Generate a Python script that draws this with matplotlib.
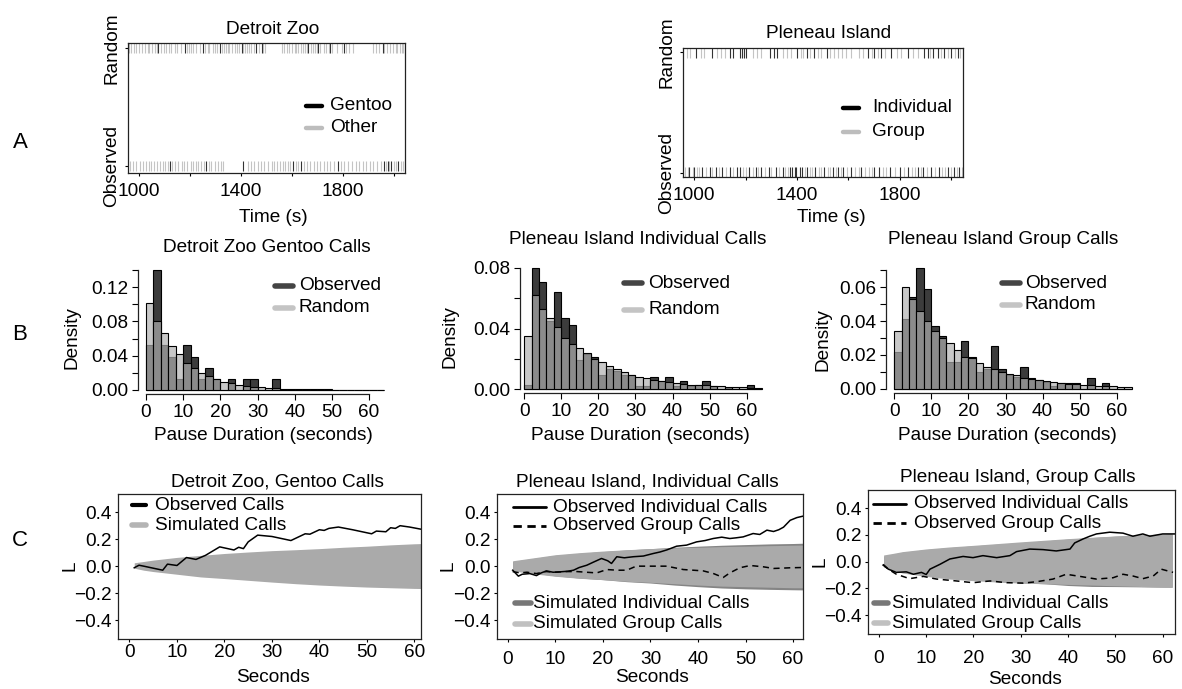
import matplotlib
matplotlib.use("Agg")
import matplotlib.pyplot as plt
from matplotlib.lines import Line2D

plt.rcParams['font.family'] = ['Liberation Sans', 'DejaVu Sans']

W, H = 1182, 689
FS = 13.7

# ---------------- data ----------------
# A: call times (s) in the observed and randomised sequences
dz_rand_other = [962, 970, 981, 990, 1002, 1011, 1024, 1035, 1041, 1053, 1062, 1070, 1088, 1097,
                 1105, 1119, 1127, 1140, 1148, 1166, 1188, 1196, 1203, 1214, 1225, 1238, 1261,
                 1270, 1277, 1290, 1297, 1305, 1326, 1333, 1341, 1349, 1355, 1367, 1378, 1386,
                 1394, 1409, 1415, 1424, 1433, 1441, 1450, 1470, 1489, 1497, 1562, 1571, 1580,
                 1588, 1602, 1611, 1618, 1626, 1635, 1644, 1652, 1660, 1675, 1684, 1693, 1701,
                 1712, 1726, 1735, 1748, 1760, 1778, 1797, 1812, 1826, 1842, 1918, 1931, 1943,
                 1962, 1975, 1988, 1996, 2008, 2015, 2024, 2033, 2038]
dz_rand_gentoo = [1076, 1181, 1252, 1318, 1403, 1461, 1482, 1664, 1703, 1752, 1805, 1957]
dz_obs_other = [964, 975, 988, 1005, 1017, 1026, 1038, 1049, 1058, 1072, 1084, 1093, 1102, 1113,
                1130, 1142, 1155, 1168, 1176, 1190, 1204, 1212, 1224, 1233, 1242, 1256, 1274,
                1283, 1297, 1309, 1321, 1332, 1428, 1440, 1452, 1466, 1480, 1493, 1507, 1521,
                1530, 1542, 1554, 1566, 1575, 1584, 1594, 1616, 1626, 1649, 1660, 1672, 1687,
                1699, 1711, 1725, 1738, 1752, 1766, 1795, 1807, 1822, 1838, 1851, 1866, 1880,
                1893, 1907, 1921, 1936, 1950, 1970, 1983, 2000, 2009, 2028, 2037]
dz_obs_gentoo = [1121, 1265, 1409, 1605, 1638, 1781, 1964, 1977, 1990, 2016]

pi_rand_group = [972, 985, 1025, 1040, 1090, 1105, 1120, 1230, 1245, 1260, 1345, 1360, 1375, 1415,
                 1425, 1450, 1480, 1495, 1530, 1545, 1560, 1575, 1590, 1610, 1640, 1655, 1690,
                 1715, 1740, 1790, 1805, 1850, 1870, 1915, 1960, 1985, 2012, 2035]
pi_rand_indiv = [1009, 1068, 1139, 1152, 1178, 1185, 1194, 1202, 1296, 1309, 1322, 1400, 1439,
                 1465, 1517, 1674, 1700, 1726, 1765, 1830, 1895, 1908, 1928, 1947, 1973, 1999, 2025]
pi_obs_group = [965, 975, 995, 1012, 1020, 1045, 1070, 1098, 1125, 1150, 1190, 1200, 1228, 1250,
                1275, 1300, 1330, 1355, 1365, 1430, 1450, 1460, 1485, 1495, 1520, 1530, 1550,
                1570, 1595, 1625, 1640, 1665, 1680, 1690, 1735, 1745, 1780, 1815, 1845, 1858,
                1880, 1905, 1935, 1965, 1975, 2000, 2022, 2040]
pi_obs_indiv = [980, 1000, 1030, 1060, 1085, 1110, 1140, 1165, 1180, 1215, 1240, 1262, 1290, 1318,
                1345, 1372, 1380, 1392, 1398, 1410, 1418, 1440, 1470, 1505, 1540, 1560, 1580,
                1610, 1650, 1700, 1720, 1760, 1800, 1830, 1870, 1890, 1920, 1950, 1985, 2010, 2030]

# B: pause-duration densities, 2 s bins from 0 to 64 s
bin_edges = list(range(0, 66, 2))
dz_hist_obs = [0.052, 0.140, 0.052, 0.039, 0.013, 0.052, 0.039, 0.013, 0.026, 0.013, 0, 0.013,
               0, 0.013, 0.013, 0, 0, 0.013, 0, 0, 0, 0, 0, 0, 0, 0, 0, 0, 0, 0, 0, 0]
dz_hist_rand = [0.102, 0.080, 0.066, 0.051, 0.042, 0.031, 0.026, 0.020, 0.016, 0.013, 0.009,
                0.008, 0.006, 0.005, 0.004, 0.003, 0.0025, 0.002, 0.0015, 0.0012, 0.001, 0.0009,
                0.0008, 0.0007, 0.0006, 0.0005, 0.0005, 0.0004, 0.0004, 0.0003, 0.0003, 0.0002]
pi_ind_hist_obs = [0.003, 0.080, 0.071, 0.045, 0.064, 0.047, 0.042, 0.019, 0.023, 0.021, 0.009,
                   0.013, 0.012, 0.009, 0.009, 0.002, 0.002, 0.0077, 0.005, 0.0077, 0.002, 0.0055,
                   0.002, 0.003, 0.0055, 0.002, 0, 0.001, 0, 0, 0.003, 0]
pi_ind_hist_rand = [0.035, 0.062, 0.053, 0.047, 0.041, 0.034, 0.030, 0.027, 0.024, 0.020, 0.018,
                    0.015, 0.013, 0.011, 0.0095, 0.008, 0.007, 0.006, 0.0055, 0.0046, 0.004,
                    0.0035, 0.003, 0.003, 0.0024, 0.002, 0.0018, 0.0015, 0.0013, 0.0011, 0.001,
                    0.0009]
pi_grp_hist_obs = [0.022, 0.041, 0.054, 0.071, 0.059, 0.037, 0.031, 0.016, 0.016, 0.028, 0.019,
                   0.010, 0.012, 0.025, 0.012, 0.008, 0.007, 0.013, 0.0065, 0.005, 0.004, 0.002,
                   0.0035, 0.0033, 0.0033, 0, 0.0065, 0, 0.0035, 0, 0, 0]
pi_grp_hist_rand = [0.034, 0.060, 0.053, 0.046, 0.040, 0.034, 0.030, 0.027, 0.023, 0.019, 0.018,
                    0.015, 0.013, 0.012, 0.010, 0.009, 0.008, 0.0067, 0.006, 0.005, 0.0045, 0.004,
                    0.0035, 0.003, 0.0028, 0.0025, 0.0022, 0.002, 0.0018, 0.0015, 0.0012, 0.001]

# C: L-function envelopes and observed curves
env_s = [1, 3, 5, 10, 15, 20, 25, 30, 35, 40, 45, 50, 55, 60, 62]
dz_env_hi = [0.025, 0.035, 0.045, 0.065, 0.080, 0.094, 0.105, 0.115, 0.122, 0.130, 0.140, 0.148,
             0.158, 0.166, 0.168]
dz_env_lo = [-0.015, -0.030, -0.040, -0.060, -0.080, -0.092, -0.105, -0.118, -0.130, -0.140,
             -0.148, -0.155, -0.160, -0.165, -0.166]
c2_grp_hi = [0.040, 0.050, 0.060, 0.085, 0.100, 0.112, 0.122, 0.130, 0.136, 0.140, 0.145, 0.148,
             0.152, 0.155, 0.156]
c2_grp_lo = [-0.035, -0.045, -0.055, -0.075, -0.090, -0.100, -0.112, -0.120, -0.130, -0.140,
             -0.148, -0.152, -0.156, -0.160, -0.160]
c2_ind_hi = [0.035, 0.045, 0.055, 0.080, 0.095, 0.108, 0.120, 0.130, 0.140, 0.148, 0.155, 0.160,
             0.165, 0.168, 0.170]
c2_ind_lo = [-0.030, -0.040, -0.050, -0.072, -0.088, -0.100, -0.115, -0.125, -0.140, -0.152,
             -0.162, -0.168, -0.172, -0.175, -0.176]
c3_grp_hi = [0.050, 0.062, 0.075, 0.095, 0.110, 0.122, 0.135, 0.148, 0.160, 0.172, 0.182, 0.192,
             0.200, 0.207, 0.210]
c3_grp_lo = [-0.040, -0.065, -0.085, -0.110, -0.130, -0.142, -0.152, -0.160, -0.165, -0.170,
             -0.175, -0.180, -0.185, -0.190, -0.192]
c3_ind_hi = [0.040, 0.055, 0.070, 0.090, 0.105, 0.118, 0.130, 0.142, 0.155, 0.168, 0.180, 0.190,
             0.198, 0.203, 0.205]
c3_ind_lo = [-0.035, -0.058, -0.075, -0.100, -0.120, -0.135, -0.148, -0.158, -0.165, -0.178,
             -0.185, -0.186, -0.188, -0.190, -0.190]

dz_obs_s = [1, 2, 3, 5, 7, 8, 10, 12, 14, 16, 19, 22, 23, 24, 25, 27, 30, 34, 37, 38, 40, 41, 42,
            44, 47, 51, 52, 54, 55, 56, 57, 59, 62]
dz_obs_L = [-0.012, 0.007, 0.0, -0.015, -0.03, 0.015, 0.005, 0.064, 0.05, 0.08, 0.143, 0.12, 0.14,
            0.13, 0.18, 0.23, 0.22, 0.19, 0.24, 0.237, 0.27, 0.265, 0.28, 0.29, 0.27, 0.24, 0.26,
            0.255, 0.285, 0.28, 0.30, 0.29, 0.27]

c2_ind_s = [1, 2.2, 3, 4.6, 6, 7, 8.1, 9.5, 11, 12.5, 13.8, 15, 16.6, 18, 19.7, 21, 21.8, 22.9,
            24.5, 26.4, 28.5, 30.6, 32, 33.4, 35.5, 37.6, 39.7, 41.5, 43.2, 45, 46.7, 48, 49.5,
            51.6, 53, 54.5, 55.9, 57, 58, 59.4, 60.8, 62]
c2_ind_L = [-0.03, -0.074, -0.06, -0.055, -0.07, -0.05, -0.035, -0.045, -0.042, -0.038, -0.03,
            -0.01, 0.007, 0.03, 0.057, 0.04, 0.02, 0.07, 0.062, 0.07, 0.075, 0.094, 0.105, 0.12,
            0.148, 0.156, 0.18, 0.19, 0.205, 0.215, 0.205, 0.21, 0.217, 0.242, 0.235, 0.267,
            0.257, 0.27, 0.289, 0.34, 0.36, 0.37]
c2_grp_s = [1, 2.5, 4, 6, 8, 10, 12, 14.5, 16.5, 18.7, 20.8, 23, 25, 27, 30.6, 33.4, 36.9, 39,
            41.1, 43.2, 45.3, 46.7, 48.8, 51, 53.8, 55.9, 57.5, 59.4, 62]
c2_grp_L = [-0.04, -0.05, -0.045, -0.055, -0.04, -0.045, -0.04, -0.04, -0.045, -0.05, -0.025,
            -0.03, -0.03, 0.0, 0.0, 0.0, -0.025, -0.03, -0.035, -0.054, -0.084, -0.05, -0.012,
            0.005, -0.005, -0.017, -0.015, -0.012, -0.01]

c3_ind_s = [0.9, 2, 3.7, 5.8, 7.3, 9, 10, 10.8, 12.9, 15, 17.8, 19.9, 22, 24.9, 27.7, 29.1, 31.9,
            34.7, 37.5, 40.4, 41.4, 43.2, 44.6, 46, 48.8, 51.6, 53.7, 55.8, 57.3, 60, 62.5]
c3_ind_L = [-0.026, -0.056, -0.08, -0.076, -0.094, -0.08, -0.096, -0.056, -0.02, 0.02, 0.039,
            0.03, 0.045, 0.03, 0.045, 0.075, 0.094, 0.09, 0.08, 0.094, 0.14, 0.17, 0.19, 0.207,
            0.22, 0.213, 0.19, 0.207, 0.19, 0.207, 0.207]
c3_grp_s = [0.9, 2, 3.7, 6.5, 9.4, 12.2, 16.4, 19.9, 23.5, 27, 30.5, 33.3, 36.8, 39.6, 42.5, 46,
            49.5, 51.6, 53.7, 55.8, 58, 59.7, 62.2]
c3_grp_L = [-0.02, -0.056, -0.094, -0.127, -0.11, -0.13, -0.144, -0.157, -0.144, -0.157, -0.16,
            -0.15, -0.13, -0.094, -0.11, -0.13, -0.12, -0.094, -0.107, -0.127, -0.107, -0.056,
            -0.08]

# ---------------- helpers ----------------
fig = plt.figure(figsize=(W / 100, H / 100), dpi=100)


def axes_px(left, top, right, bottom):
    return fig.add_axes([left / W, 1 - bottom / H, (right - left) / W, (bottom - top) / H])


def text_px(x, y, s, size=FS, **kw):
    kw.setdefault('ha', 'center')
    kw.setdefault('va', 'center')
    fig.text(x / W, 1 - y / H, s, fontsize=size, **kw)


def legend_px(x0, x1, xt, y, label, **line_kw):
    fig.add_artist(Line2D([x0 / W, x1 / W], [1 - y / H, 1 - y / H],
                          transform=fig.transFigure, solid_capstyle='round', **line_kw))
    text_px(xt, y, label, ha='left')


def frame(ax, lw=0.9):
    for sp in ax.spines.values():
        sp.set_linewidth(lw)
        sp.set_color('#222222')


# ---------------- A: rug plots ----------------
def rug_panel(box, ylim, gray_rand, black_rand, gray_obs, black_obs, pad):
    ax = axes_px(*box)
    for times, y0, col in [(gray_rand, 1, '#c4c4c4'), (gray_obs, 0, '#c4c4c4'),
                           (black_rand, 1, '#333333'), (black_obs, 0, '#333333')]:
        ax.vlines(times, y0 - 0.045, y0 + 0.045, colors=col, lw=0.8)
    ax.set_xlim(957, 2045)
    ax.set_ylim(*ylim)
    ax.set_xticks([1000, 1200, 1400, 1600, 1800, 2000])
    ax.set_xticklabels(['1000', '', '1400', '', '1800', ''], fontsize=FS)
    ax.set_yticks([0, 1])
    ax.set_yticklabels(['Observed', 'Random'], rotation=90, va='center', fontsize=FS)
    ax.tick_params(axis='x', length=2.5, width=0.8, pad=pad)
    ax.tick_params(axis='y', length=2.5, width=0.8, pad=3)
    frame(ax)
    return ax


rug_panel((128, 43, 405, 173), (-0.06, 1.04), dz_rand_other, dz_rand_gentoo,
          dz_obs_other, dz_obs_gentoo, 5)
rug_panel((683, 48, 963, 177), (-0.035, 1.035), pi_rand_group, pi_rand_indiv,
          pi_obs_group, pi_obs_indiv, 5)

text_px(273, 30, 'Detroit Zoo')
text_px(829, 34, 'Pleneau Island')
text_px(273, 217, 'Time (s)')
text_px(831, 218, 'Time (s)')
legend_px(306, 322, 330, 106, 'Gentoo', color='black', lw=3.2)
legend_px(306, 322, 330, 128, 'Other', color='#bdbdbd', lw=3.2)
legend_px(843, 859, 872, 108, 'Individual', color='black', lw=3.2)
legend_px(843, 859, 872, 132, 'Group', color='#bdbdbd', lw=3.2)


# ---------------- B: histograms ----------------
def hist_panel(box, xlim, ylim, ytop, yticks, ylabels, obs, rand):
    ax = axes_px(*box)
    ax.bar(bin_edges[:-1], obs, width=2, align='edge', color='#3c3c3c',
           edgecolor='black', linewidth=0.8)
    ax.bar(bin_edges[:-1], rand, width=2, align='edge', color=(0.69, 0.69, 0.69, 0.69),
           edgecolor='black', linewidth=0.8)
    ax.set_xlim(*xlim)
    ax.set_ylim(*ylim)
    for side in ['top', 'right']:
        ax.spines[side].set_visible(False)
    ax.spines['left'].set_bounds(0, ytop)
    ax.spines['bottom'].set_bounds(0, 60)
    frame(ax)
    ax.set_xticks([0, 10, 20, 30, 40, 50, 60])
    ax.set_xticklabels(['0', '10', '20', '30', '40', '50', '60'], fontsize=FS)
    ax.set_yticks(yticks)
    ax.set_yticklabels(ylabels, fontsize=FS)
    ax.tick_params(length=4, width=0.8, pad=3)
    return ax


hist_panel((138, 266, 394, 394), (-2.15, 66.7), (-0.0047, 0.1447), 0.14,
           [0, 0.02, 0.04, 0.06, 0.08, 0.10, 0.12, 0.14],
           ['0.00', '', '0.04', '', '0.08', '', '0.12', ''], dz_hist_obs, dz_hist_rand)
hist_panel((520, 264, 771, 393), (-1.1, 66.5), (-0.0026, 0.0826), 0.08,
           [0, 0.02, 0.04, 0.06, 0.08], ['0.00', '', '0.04', '', '0.08'],
           pi_ind_hist_obs, pi_ind_hist_rand)
hist_panel((886, 266, 1141, 393), (-2.2, 66.5), (-0.0024, 0.0724), 0.07,
           [0, 0.01, 0.02, 0.03, 0.04, 0.05, 0.06, 0.07],
           ['0.00', '', '0.02', '', '0.04', '', '0.06', ''], pi_grp_hist_obs, pi_grp_hist_rand)

text_px(267, 248, 'Detroit Zoo Gentoo Calls')
text_px(638, 239, 'Pleneau Island Individual Calls')
text_px(1003, 240, 'Pleneau Island Group Calls')
for x in [263, 640, 1007]:
    text_px(x, 435, 'Pause Duration (seconds)')
for x, y in [(72, 338), (450, 337), (823, 340)]:
    text_px(x, y, 'Density', rotation=90)
for x0, xt, y1, y2 in [(275, 299, 286, 308), (624, 648, 283, 310), (1002, 1025, 283, 305)]:
    legend_px(x0, x0 + 18, xt, y1, 'Observed', color='#444444', lw=4)
    legend_px(x0, x0 + 18, xt, y2, 'Random', color='#c4c4c4', lw=4)


# ---------------- C: L functions ----------------
def l_panel(box, xlim, xpad):
    ax = axes_px(*box)
    ax.set_xlim(*xlim)
    ax.set_ylim(-0.54, 0.535)
    ax.set_xticks([0, 10, 20, 30, 40, 50, 60])
    ax.set_xticklabels(['0', '10', '20', '30', '40', '50', '60'], fontsize=FS)
    ax.set_yticks([-0.4, -0.2, 0.0, 0.2, 0.4])
    ax.set_yticklabels(['\u22120.4', '\u22120.2', '0.0', '0.2', '0.4'], fontsize=FS)
    ax.tick_params(axis='x', length=2.5, width=0.8, pad=xpad)
    ax.tick_params(axis='y', length=2.5, width=0.8, pad=2)
    frame(ax)
    return ax


ax = l_panel((118, 494, 421, 639), (-2.42, 61.4), 1)
ax.fill_between(env_s, dz_env_lo, dz_env_hi, color='#aaaaaa', lw=0)
ax.plot(dz_obs_s, dz_obs_L, color='black', lw=1.1)

ax = l_panel((497, 494, 803, 639), (-2.3, 62.1), 6)
ax.fill_between(env_s, c2_ind_lo, c2_ind_hi, color='#858585', lw=0)
ax.fill_between(env_s, c2_grp_lo, c2_grp_hi, color='#aaaaaa', lw=0)
ax.plot(c2_ind_s, c2_ind_L, color='black', lw=1.1)
ax.plot(c2_grp_s, c2_grp_L, color='black', lw=1.1, ls=(0, (4, 3)))

ax = l_panel((868, 490, 1175, 634), (-2.3, 62.6), 9)
ax.fill_between(env_s, c3_ind_lo, c3_ind_hi, color='#858585', lw=0)
ax.fill_between(env_s, c3_grp_lo, c3_grp_hi, color='#aaaaaa', lw=0)
ax.plot(c3_ind_s, c3_ind_L, color='black', lw=1.1)
ax.plot(c3_grp_s, c3_grp_L, color='black', lw=1.1, ls=(0, (4, 3)))

text_px(277, 482, 'Detroit Zoo, Gentoo Calls')
text_px(647, 482, 'Pleneau Island, Individual Calls')
text_px(1018, 477, 'Pleneau Island, Group Calls')
text_px(273, 677, 'Seconds')
text_px(652, 678, 'Seconds')
text_px(1025, 680, 'Seconds')
for x, y in [(70, 566), (448, 566), (820, 562)]:
    text_px(x, y, 'L', rotation=90)

legend_px(132, 146, 155, 505, 'Observed Calls', color='black', lw=3)
legend_px(132, 146, 155, 525, 'Simulated Calls', color='#b4b4b4', lw=4)
legend_px(513, 546, 553, 507, 'Observed Individual Calls', color='black', lw=2)
legend_px(513, 546, 553, 526, 'Observed Group Calls', color='black', lw=2, ls=(0, (3, 2)))
legend_px(515, 531, 533, 603, 'Simulated Individual Calls', color='#777777', lw=4)
legend_px(515, 531, 533, 624, 'Simulated Group Calls', color='#c0c0c0', lw=4)
legend_px(873, 906, 914, 504, 'Observed Individual Calls', color='black', lw=2)
legend_px(873, 906, 914, 523, 'Observed Group Calls', color='black', lw=2, ls=(0, (3, 2)))
legend_px(874, 888, 892, 603, 'Simulated Individual Calls', color='#777777', lw=4)
legend_px(874, 888, 892, 623, 'Simulated Group Calls', color='#c0c0c0', lw=4)

# panel letters
text_px(20, 143, 'A', size=16)
text_px(20, 335, 'B', size=16)
text_px(20, 540, 'C', size=16)

fig.savefig('out.png', dpi=100)
